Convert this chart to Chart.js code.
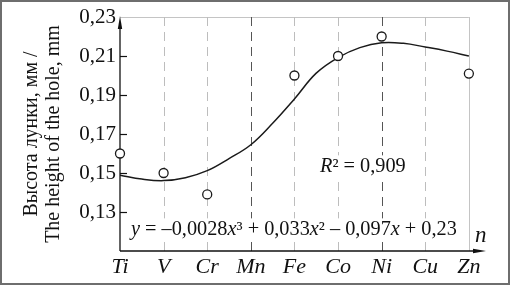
<!DOCTYPE html>
<html><head><meta charset="utf-8">
<script src="https://cdn.jsdelivr.net/npm/chart.js@4/dist/chart.umd.min.js"></script>
<style>
html,body{margin:0;padding:0;background:#fff;}
#wrap{position:relative;width:510px;height:285px;}
#frame{position:absolute;left:0;top:0;width:510px;height:285px;box-sizing:border-box;border:2px solid #6e6e6e;pointer-events:none;}
canvas{display:block;}
</style></head><body>
<div id="wrap"><canvas id="c" width="510" height="285"></canvas><div id="frame"></div></div>
<script>
// ---- data ----
const elements = ['Ti', 'V', 'Cr', 'Mn', 'Fe', 'Co', 'Ni', 'Cu', 'Zn'];
const measuredHeight = [0.160, 0.150, 0.139, null, 0.200, 0.210, 0.220, null, 0.201];
const fitPosition = [1, 1.5, 2, 2.5, 3, 3.5, 4, 4.5, 5, 5.5, 6, 6.5, 7, 7.5, 8, 8.5, 9];
const fitHeight = [0.1489, 0.1469, 0.1461, 0.1476, 0.1512, 0.1574, 0.1645, 0.1755, 0.1880, 0.2012, 0.2092, 0.2143, 0.2168, 0.2165, 0.2146, 0.2125, 0.2100];
const yTickValues = [0.13, 0.15, 0.17, 0.19, 0.21, 0.23];
const yMin = 0.11, yMax = 0.23;
const yTitle = ['Высота лунки, мм /', 'The height of the hole, mm'];
const equationParts = [['y', 1], [' = –0,0028', 0], ['x', 1], ['³', 0], [' + 0,033', 0], ['x', 1], ['²', 0], [' – 0,097', 0], ['x', 1], [' + 0,23', 0]];
const r2Parts = [['R', 1], ['²', 0], [' = 0,909', 0]];
const xAxisName = 'n';
const darkGridAt = ['Mn', 'Ni'];

const SERIF = '"Liberation Serif", "DejaVu Serif", serif';
const INK = '#111';

function partsWidth(ctx, parts, size) {
  let w = 0;
  for (const [t, it] of parts) {
    ctx.font = (it ? 'italic ' : '') + size + 'px ' + SERIF;
    w += ctx.measureText(t).width;
  }
  return w;
}
function drawParts(ctx, parts, x, y, size) {
  const w = partsWidth(ctx, parts, size);
  ctx.fillStyle = '#fff';
  ctx.fillRect(x - 3, y - size * 0.82, w + 6, size * 1.1);
  ctx.fillStyle = INK;
  let cx = x;
  for (const [t, it] of parts) {
    ctx.font = (it ? 'italic ' : '') + size + 'px ' + SERIF;
    ctx.fillText(t, cx, y);
    cx += ctx.measureText(t).width;
  }
}

const decor = {
  id: 'decor',
  beforeDatasetsDraw(chart) {
    const {ctx, scales: {x, y}, chartArea: a} = chart;
    const yTop = y.getPixelForValue(yMax);
    const xLast = x.getPixelForValue(elements.length);
    ctx.save();
    // top frame line
    ctx.strokeStyle = '#c4c4c4'; ctx.lineWidth = 1;
    ctx.beginPath(); ctx.moveTo(a.left, yTop + 0.5); ctx.lineTo(xLast, yTop + 0.5); ctx.stroke();
    // vertical grid lines
    elements.forEach((e, i) => {
      if (i === 0) return;
      const px = Math.round(x.getPixelForValue(i + 1)) + 0.5;
      ctx.beginPath();
      if (i === elements.length - 1) { ctx.setLineDash([]); ctx.strokeStyle = '#c4c4c4'; }
      else if (darkGridAt.includes(e)) { ctx.setLineDash([9, 6]); ctx.strokeStyle = '#555'; }
      else { ctx.setLineDash([9, 6]); ctx.strokeStyle = '#bdbdbd'; }
      ctx.moveTo(px, yTop); ctx.lineTo(px, a.bottom); ctx.stroke();
    });
    ctx.setLineDash([]);
    // text boxes (white background hides grid lines behind the text)
    ctx.textBaseline = 'alphabetic'; ctx.textAlign = 'left';
    drawParts(ctx, equationParts, 131, 235, 20.3);
    drawParts(ctx, r2Parts, 320, 172, 20.3);
    // axes
    ctx.strokeStyle = INK; ctx.fillStyle = INK; ctx.lineWidth = 1.3;
    ctx.beginPath(); ctx.moveTo(a.left, a.bottom); ctx.lineTo(a.left, yTop + 6); ctx.stroke();
    ctx.beginPath(); ctx.moveTo(a.left, yTop - 1); ctx.lineTo(a.left - 2.2, yTop + 12); ctx.lineTo(a.left + 2.2, yTop + 12); ctx.closePath(); ctx.fill();
    ctx.beginPath(); ctx.moveTo(a.left, a.bottom); ctx.lineTo(a.right - 6, a.bottom); ctx.stroke();
    ctx.beginPath(); ctx.moveTo(a.right + 1, a.bottom); ctx.lineTo(a.right - 12, a.bottom - 2.2); ctx.lineTo(a.right - 12, a.bottom + 2.2); ctx.closePath(); ctx.fill();
    // y tick marks
    ctx.lineWidth = 1.2;
    yTickValues.slice(0, -1).forEach(v => {
      const py = Math.round(y.getPixelForValue(v)) + 0.5;
      ctx.beginPath(); ctx.moveTo(a.left, py); ctx.lineTo(a.left + 7, py); ctx.stroke();
    });
    // axis name
    ctx.fillStyle = INK;
    ctx.font = 'italic 23px ' + SERIF;
    ctx.fillText(xAxisName, a.right - 10, 242);
    ctx.restore();
  }
};

new Chart(document.getElementById('c'), {
  data: {
    datasets: [
      {
        type: 'line',
        data: fitPosition.map((p, i) => ({x: p, y: fitHeight[i]})),
        borderColor: '#1a1a1a', borderWidth: 1.5, pointRadius: 0, tension: 0.4,
        fill: false, order: 2
      },
      {
        type: 'scatter',
        data: elements.map((e, i) => ({x: i + 1, y: measuredHeight[i]})).filter(d => d.y !== null),
        pointStyle: 'circle', pointRadius: 4.5, borderColor: '#1a1a1a', borderWidth: 1.3,
        backgroundColor: '#fff', order: 1, clip: false
      }
    ]
  },
  options: {
    responsive: false, animation: false, devicePixelRatio: 1,
    layout: {padding: {top: 17, right: 25, left: 0, bottom: 0}},
    plugins: {legend: {display: false}, tooltip: {enabled: false}},
    scales: {
      x: {
        type: 'linear', min: 1, max: 9.37,
        afterBuildTicks: s => { s.ticks = elements.map((e, i) => ({value: i + 1})); },
        ticks: {
          callback: v => elements[Math.round(v) - 1] || '',
          font: {family: SERIF, size: 22, style: 'italic'}, color: INK,
          padding: 3, maxRotation: 0, autoSkip: false
        },
        grid: {display: false, drawTicks: false},
        border: {display: false},
        afterFit: s => { s.height = 34; }
      },
      y: {
        type: 'linear', min: yMin, max: yMax,
        afterBuildTicks: s => { s.ticks = yTickValues.map(v => ({value: v})); },
        ticks: {
          callback: v => v.toFixed(2).replace('.', ','),
          font: {family: SERIF, size: 21}, color: INK, padding: 4
        },
        grid: {display: false, drawTicks: false},
        border: {display: false},
        title: {
          display: true, text: yTitle, color: INK,
          font: {family: SERIF, size: 20, lineHeight: 1.1},
          padding: {top: 21, bottom: 0}
        },
        afterFit: s => { s.width = 120; }
      }
    }
  },
  plugins: [decor]
});
</script>
</body></html>
